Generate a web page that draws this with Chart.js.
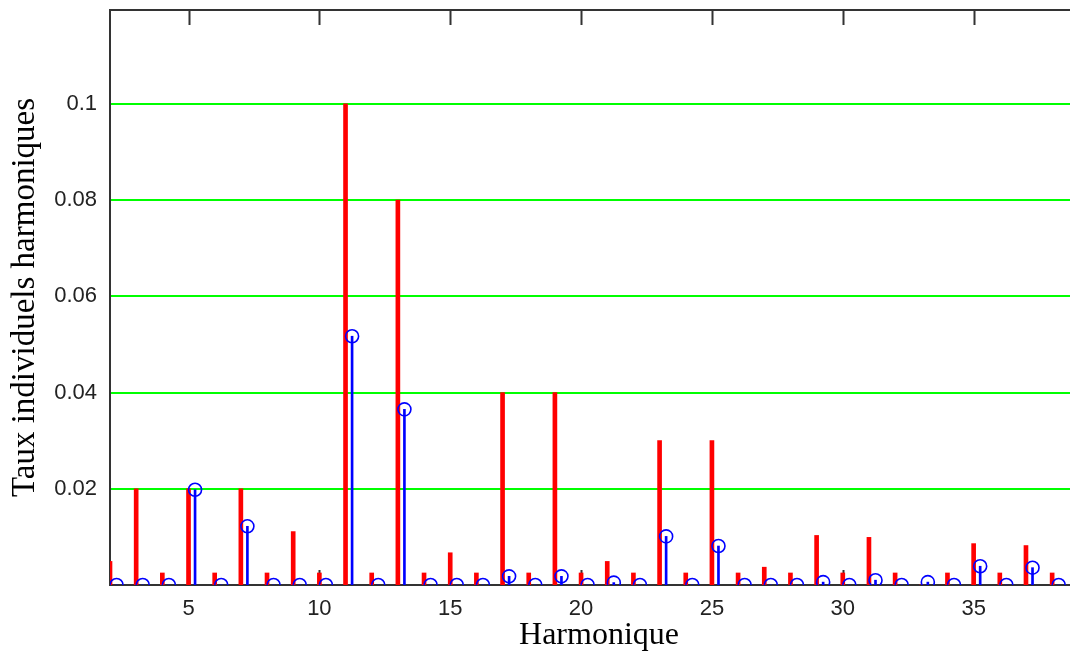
<!DOCTYPE html>
<html>
<head>
<meta charset="utf-8">
<script src="https://cdn.jsdelivr.net/npm/chart.js@4.4.1/dist/chart.umd.min.js"></script>
<style>
  html, body { margin: 0; padding: 0; background: #ffffff; overflow: hidden; }
  #wrap { width: 1070px; height: 652px; overflow: hidden; }
</style>
</head>
<body>
<div id="wrap"><canvas id="c" width="1088" height="652"></canvas></div>
<script>
// ---- data ----
const harmonics = [2,3,4,5,6,7,8,9,10,11,12,13,14,15,16,17,18,19,20,21,22,23,24,25,26,27,28,29,30,31,32,33,34,35,36,37,38];
const redValues = [0.0049,0.02,0.0025,0.02,0.0025,0.02,0.0025,0.0111,0.0025,0.1,0.0025,0.08,0.0025,0.0067,0.0025,0.04,0.0025,0.04,0.0025,0.0049,0.0025,0.03,0.0025,0.03,0.0025,0.0037,0.0025,0.0103,0.0025,0.0099,0.0025,0,0.0025,0.0086,0.0025,0.0082,0.0025];
const blueValues = [0,0,0,0.0198,0,0.0122,0,0,0,0.0517,0,0.0365,0,0,0,0.0018,0,0.0018,0,0.0005,0,0.0101,0,0.0081,0,0,0,0.0006,0,0.001,0,0.0006,0,0.0039,0,0.0036,0];
const blueShift = 0.25;
const xTickValues = [5,10,15,20,25,30,35];
const yTickValues = [0.02,0.04,0.06,0.08,0.1];
const yTickLabels = ["0.02","0.04","0.06","0.08","0.1"];
const xRange = [2, 39.37];
const yRange = [0, 0.1195];

const redPts = harmonics.map((h,i) => ({x: h, y: redValues[i]}));
const bluePts = harmonics.map((h,i) => ({x: h + blueShift, y: blueValues[i]}));

const tickFont = "'Liberation Sans', Arial, sans-serif";
const titleFont = "'Liberation Serif', 'Times New Roman', serif";

const frame = {
  id: 'frame',
  beforeDatasetsDraw(chart) {
    const {ctx, chartArea: a, scales: {x}} = chart;
    ctx.save();
    ctx.strokeStyle = '#333333';
    ctx.lineWidth = 2;
    ctx.beginPath();
    xTickValues.forEach(v => {
      const px = Math.round(x.getPixelForValue(v)) + 0.5;
      ctx.moveTo(px, a.top); ctx.lineTo(px, a.top + 15);
      ctx.moveTo(px, a.bottom); ctx.lineTo(px, a.bottom - 15);
    });
    ctx.stroke();
    ctx.beginPath();
    ctx.moveTo(a.left - 1, a.top);
    ctx.lineTo(a.right, a.top);
    ctx.stroke();
    ctx.restore();
  }
};

new Chart(document.getElementById('c'), {
  type: 'bar',
  data: {
    datasets: [
      {
        type: 'bar', data: redPts, backgroundColor: '#ff0000', borderWidth: 0,
        barThickness: 4, grouped: false, order: 3
      },
      {
        type: 'bar', data: bluePts, backgroundColor: '#0000ff', borderWidth: 0,
        barThickness: 2, grouped: false, order: 2
      },
      {
        type: 'scatter', data: bluePts, pointStyle: 'circle', pointRadius: 6.5,
        pointBorderWidth: 1.6, pointBorderColor: '#0000ff', pointBackgroundColor: 'rgba(0,0,0,0)',
        showLine: false, clip: 0, order: 1
      }
    ]
  },
  options: {
    responsive: false,
    animation: false,
    events: [],
    layout: { autoPadding: false, padding: { top: 10, right: 0, left: 0, bottom: 0 } },
    plugins: { legend: { display: false }, tooltip: { enabled: false } },
    scales: {
      x: {
        type: 'linear', min: xRange[0], max: xRange[1], offset: false,
        afterFit(s) { s.height = 67; s.paddingLeft = 0; s.paddingRight = 0; },
        afterBuildTicks(s) { s.ticks = xTickValues.map(v => ({value: v})); },
        grid: { display: false, drawTicks: false, offset: false },
        border: { display: true, color: '#333333', width: 2 },
        ticks: { color: '#222222', padding: 11, maxRotation: 0, autoSkip: false,
                 font: { family: tickFont, size: 22 }, callback: v => String(v) },
        title: { display: true, text: 'Harmonique', color: '#000000',
                 font: { family: titleFont, size: 32, lineHeight: 1 }, padding: { top: 0, bottom: 0 } }
      },
      y: {
        type: 'linear', min: yRange[0], max: yRange[1],
        afterFit(s) { s.width = 110; s.paddingTop = 0; s.paddingBottom = 0; },
        afterBuildTicks(s) { s.ticks = yTickValues.map(v => ({value: v})); },
        grid: { color: '#00ff00', lineWidth: 2, drawTicks: false },
        border: { display: true, color: '#333333', width: 2 },
        ticks: { color: '#222222', padding: 13, autoSkip: false,
                 font: { family: tickFont, size: 22 },
                 callback: (v) => { const i = yTickValues.indexOf(v); return i >= 0 ? yTickLabels[i] : ''; } },
        title: { display: true, text: 'Taux individuels harmoniques', color: '#000000',
                 font: { family: titleFont, size: 33, lineHeight: 1 }, padding: { top: 9, bottom: 0 } }
      }
    }
  },
  plugins: [frame]
});
</script>
</body>
</html>
